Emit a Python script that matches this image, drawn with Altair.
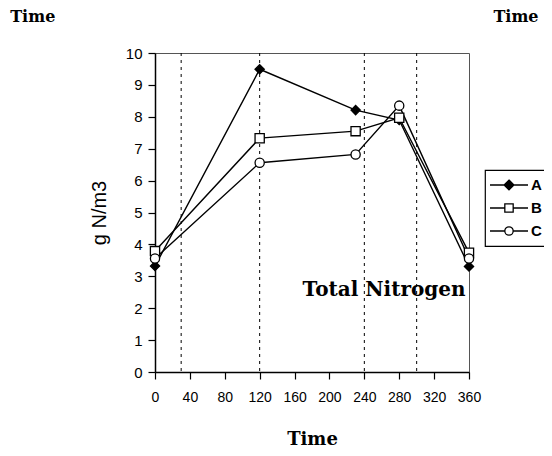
import altair as alt
import pandas as pd

# ---- data ----
times = [0, 120, 230, 280, 360]
series_a = [3.32, 9.49, 8.21, 7.90, 3.31]
series_b = [3.79, 7.33, 7.55, 7.97, 3.74]
series_c = [3.56, 6.56, 6.82, 8.35, 3.56]
series_names = ["A", "B", "C"]
dashed_times = [30, 120, 240, 300]
x_ticks = [0, 40, 80, 120, 160, 200, 240, 280, 320, 360]
y_ticks = [0, 1, 2, 3, 4, 5, 6, 7, 8, 9, 10]

corner_labels = ["Time", "Time"]
corner_x = [-166, 388]
corner_y = [10.97, 10.97]
note_label = ["Total Nitrogen"]
note_x = [356]
note_y = [2.38]

rows = []
for name, vals in zip(series_names, [series_a, series_b, series_c]):
    for t, v in zip(times, vals):
        rows.append({"time": t, "value": v, "series": name})
df = pd.DataFrame(rows)
rules_df = pd.DataFrame({"time": dashed_times})
corner_df = pd.DataFrame({"label": corner_labels, "time": corner_x, "value": corner_y})
note_df = pd.DataFrame({"label": note_label, "time": note_x, "value": note_y})

xscale = alt.Scale(domain=[0, 360], nice=False, zero=False)
yscale = alt.Scale(domain=[0, 10], nice=False, zero=True)

x_axis = alt.Axis(
    values=x_ticks, title="Time", grid=False, labelFont="Liberation Sans",
    labelFontSize=14, labelColor="black", tickColor="black", tickSize=7,
    labelPadding=11, domainColor="black", domainWidth=1.5, tickWidth=1.2,
    labelOverlap=False, labelFlush=False,
    titleFont="DejaVu Serif", titleFontWeight="bold", titleFontSize=18,
    titleColor="black", titlePadding=26)
y_axis = alt.Axis(
    values=y_ticks, title="g N/m3", grid=False, labelFont="Liberation Sans",
    labelFontSize=15, labelColor="black", tickColor="black", tickSize=7,
    labelPadding=6, domainColor="black", domainWidth=1.5, tickWidth=1.2,
    labelOverlap=False, labelFlush=False,
    titleFont="Liberation Sans", titleFontWeight="normal", titleFontSize=20,
    titleColor="black", titlePadding=16)

x_enc = alt.X("time:Q", scale=xscale, axis=x_axis)
y_enc = alt.Y("value:Q", scale=yscale, axis=y_axis)

# custom legend symbols: line with marker
sym_a = "M-1,0H-0.26 M0.26,0H1 M0,-0.26L0.26,0L0,0.26L-0.26,0Z"
sym_b = "M-1,0H-0.22 M0.22,0H1 M-0.22,-0.22H0.22V0.22H-0.22Z"
sym_c = ("M-1,0H-0.22 M0.22,0H1 M0.22,0A0.22,0.22 0 1,1 -0.22,0"
         "A0.22,0.22 0 1,1 0.22,0Z")

rules = alt.Chart(rules_df).mark_rule(
    color="black", strokeWidth=1, strokeDash=[3, 4]
).encode(x=x_enc)

lines = alt.Chart(df).mark_line(color="black", strokeWidth=1.4).encode(
    x=x_enc, y=y_enc, detail="series:N")

points = alt.Chart(df).mark_point(opacity=1, strokeWidth=1.3, size=85).encode(
    x=x_enc,
    y=y_enc,
    shape=alt.Shape("series:N", scale=alt.Scale(
        domain=series_names, range=["diamond", "square", "circle"]), legend=None),
    fill=alt.Fill("series:N", scale=alt.Scale(
        domain=series_names, range=["black", "white", "white"]), legend=None),
    stroke=alt.value("black"),
)

legend_spec = alt.Legend(
    title=None, orient="none", legendX=330, legendY=117,
    symbolSize=1444, symbolStrokeWidth=1.3, symbolStrokeColor="black",
    clipHeight=22, rowPadding=1, labelFont="Liberation Sans",
    labelFontSize=15, labelFontWeight="bold", labelColor="black",
    labelOffset=2, symbolOffset=0, padding=4, strokeColor="black")

legend_layer = alt.Chart(df).mark_point(opacity=1, strokeWidth=1.3).encode(
    x=x_enc,
    y=y_enc,
    shape=alt.Shape("series:N", scale=alt.Scale(
        domain=series_names, range=[sym_a, sym_b, sym_c]), legend=legend_spec),
    fill=alt.Fill("series:N", scale=alt.Scale(
        domain=series_names, range=["black", "white", "white"]), legend=legend_spec),
    stroke=alt.Stroke("series:N", scale=alt.Scale(
        domain=series_names, range=["black", "black", "black"]), legend=legend_spec),
).transform_filter("datum.value < -100")

corner_text = alt.Chart(corner_df).mark_text(
    font="DejaVu Serif", fontWeight="bold", fontSize=16, align="left",
    baseline="alphabetic", color="black"
).encode(x=x_enc, y=y_enc, text="label:N")

note_text = alt.Chart(note_df).mark_text(
    font="DejaVu Serif", fontWeight="bold", fontSize=20, align="right",
    baseline="alphabetic", color="black"
).encode(x=x_enc, y=y_enc, text="label:N")

chart = alt.layer(
    rules, lines, points, legend_layer, corner_text, note_text
).resolve_scale(
    shape="independent", fill="independent", stroke="independent"
).properties(
    width=314, height=319,
    autosize=alt.AutoSizeParams(type="none"),
    padding={"left": 147, "top": 45, "right": 75, "bottom": 76},
).configure_view(
    stroke="#555", strokeWidth=1
).configure_legend(
    strokeWidth=1.2
)

chart.save("out.html", embed_options={"renderer": "svg", "actions": False})
